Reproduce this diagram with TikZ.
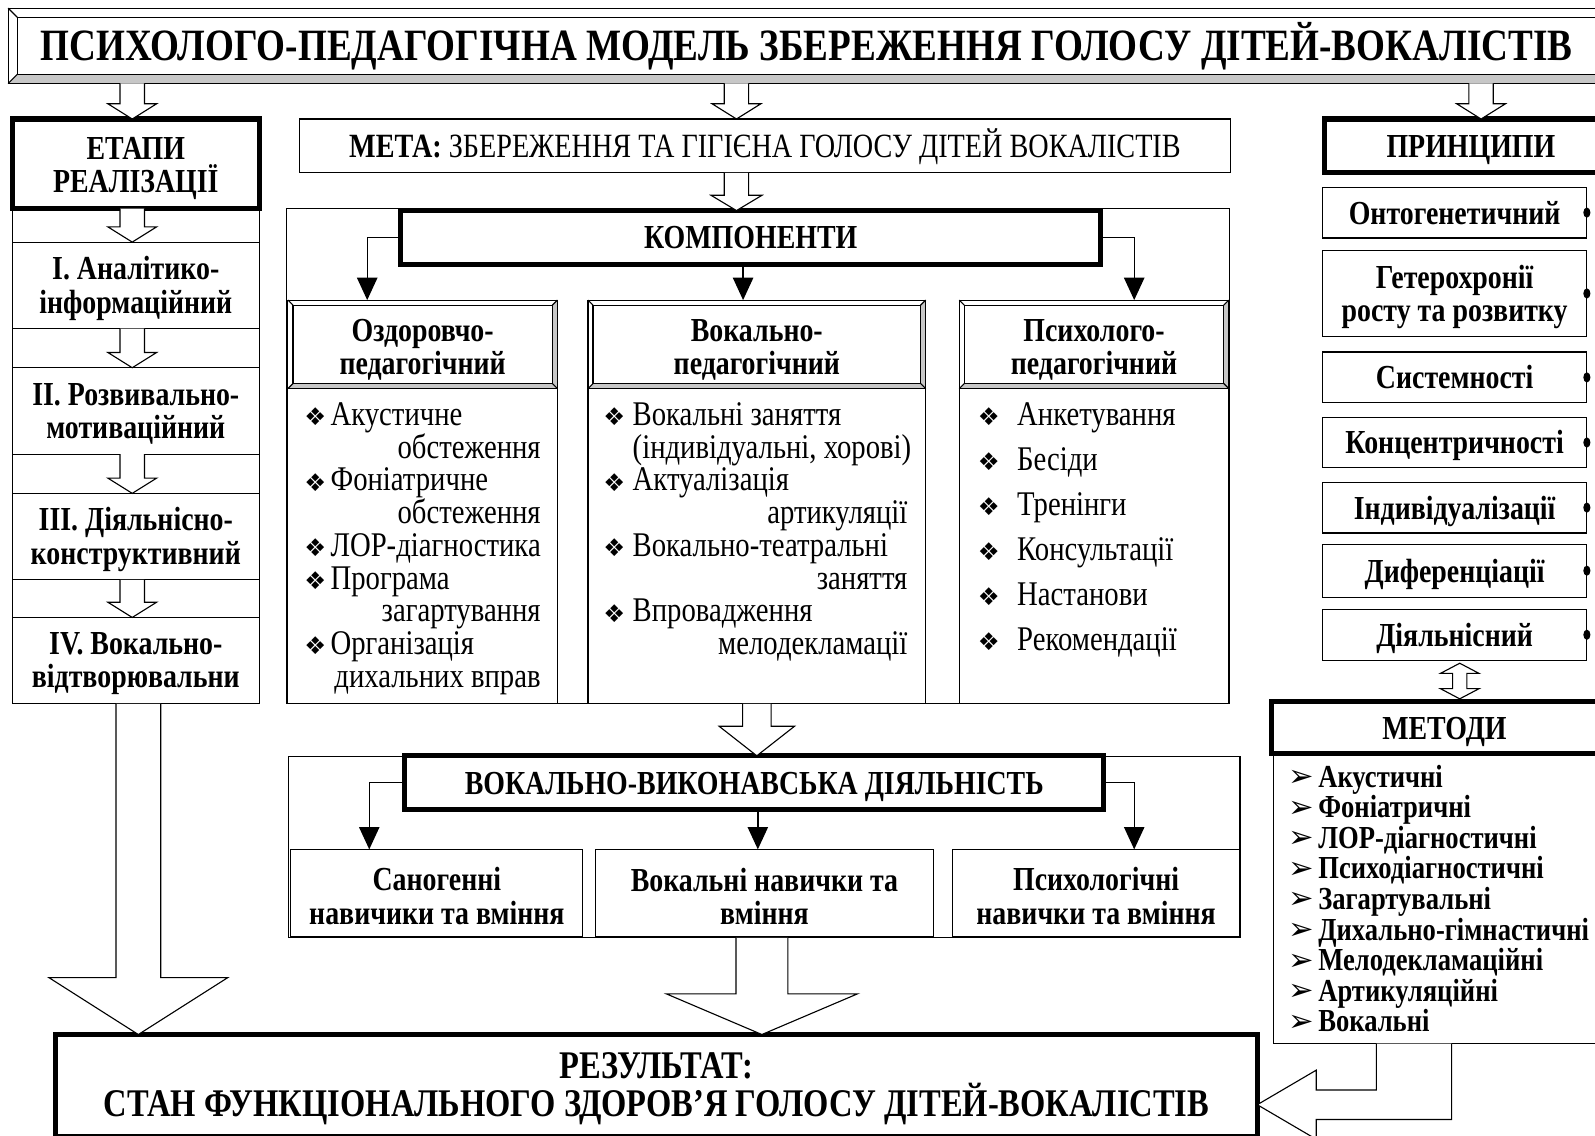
\documentclass[tikz,border=0pt]{standalone}
\usepackage{fontspec}
\setmainfont{Liberation Serif}[FakeStretch=0.83]
\newfontfamily\dejavu{DejaVu Sans}
\usetikzlibrary{arrows.meta,calc}

\newcommand{\titlefnt}{\fontsize{44}{44}\selectfont\bfseries}
\newcommand{\headfnt}{\fontsize{33}{33}\selectfont\bfseries}
\newcommand{\listfnt}{\fontsize{34}{32}\selectfont}
\newcommand{\methfnt}{\fontsize{31.5}{30}\selectfont\bfseries}
\newcommand{\resfnt}{\fontsize{38.5}{37}\selectfont\bfseries}
\newcommand{\diamfnt}{\dejavu\fontsize{24}{24}\selectfont}
\newcommand{\arrfnt}{\dejavu\fontsize{30}{30}\selectfont}
% line struts, so that boxes centre their text as a word processor does
\newcommand{\tstrut}{\rule{0pt}{0.9em}}
\newcommand{\bstrut}{\rule[-0.22em]{0pt}{0pt}}

\tikzset{
  box/.style={draw, inner sep=0pt, outer sep=0pt, align=center, font=\headfnt,
    execute at begin node=\tstrut, execute at end node=\bstrut},
  heavybox/.style={box, line width=5pt},
  bevelbox/.style={inner sep=0pt, outer sep=0pt, align=center, font=\headfnt,
    execute at begin node=\tstrut, execute at end node=\bstrut},
  lbl/.style={inner sep=0pt, outer sep=0pt, align=center, font=\headfnt},
  listitem/.style={inner sep=0pt, outer sep=0pt, font=\listfnt, text height=24pt, text depth=7pt},
  diam/.style={inner sep=0pt, outer sep=0pt, font=\diamfnt},
  conn/.style={line width=1.3pt, -{Triangle[width=20pt,length=22pt]}},
}

% hollow block arrow pointing down: x, from, to, shaft half, head half, head length
\newcommand{\hollowdown}[6]{%
  \draw[fill=white] let \p1=(#2), \p2=(#3) in
    (#1pt-#4pt,\y1) -- (#1pt-#4pt,\y2+#6pt) -- (#1pt-#5pt,\y2+#6pt) -- (#1pt,\y2)
    -- (#1pt+#5pt,\y2+#6pt) -- (#1pt+#4pt,\y2+#6pt) -- (#1pt+#4pt,\y1);}

% bevelled frame round a node: node, depth
\newcommand{\bevel}[2]{%
  \fill[black!22] (#1.south west) -- (#1.south east) -- (#1.north east)
    -- ([shift={(-#2,#2)}]#1.north east) -- ([shift={(-#2,-#2)}]#1.south east)
    -- ([shift={(#2,-#2)}]#1.south west) -- cycle;
  \draw (#1.south west) rectangle (#1.north east);
  \draw ([shift={(#2,#2)}]#1.north west) rectangle ([shift={(-#2,-#2)}]#1.south east);
  \draw (#1.north west) -- ([shift={(#2,#2)}]#1.north west)
        (#1.north east) -- ([shift={(-#2,#2)}]#1.north east)
        (#1.south east) -- ([shift={(-#2,-#2)}]#1.south east)
        (#1.south west) -- ([shift={(#2,-#2)}]#1.south west);}

\begin{document}
\begin{tikzpicture}[x=1pt, y=-1pt, line width=1.1pt]

\useasboundingbox (0,0) rectangle (1568,1116);
\fill[white] (0,0) rectangle (1568,1116);
\clip (0,0) rectangle (1568,1116);

% title banner
\node[bevelbox, font=\titlefnt, minimum width=1570pt, minimum height=74pt] (title) at (793,45)
  {ПСИХОЛОГО-ПЕДАГОГІЧНА МОДЕЛЬ ЗБЕРЕЖЕННЯ ГОЛОСУ ДІТЕЙ-ВОКАЛІСТІВ};
\bevel{title}{9}

% stages column
\node[box, minimum width=243pt, minimum height=487pt] (stcol) at (133.5,448.5) {};
\foreach \n/\yc/\txt in {1/280.5/{I. Аналітико-\\інформаційний},
                         2/404/{II. Розвивально-\\мотиваційний},
                         3/527.5/{III. Діяльнісно-\\конструктивний},
                         4/649.5/{IV. Вокально-\\відтворювальни}} {
  \node[box, fill=white, minimum width=243pt, minimum height=85pt] (st\n) at (133.5,\yc) {};
  \node[lbl] (stt\n) at ([yshift=-3pt]st\n.center) {\txt};
}
\foreach \a/\b in {1/2,2/3,3/4}
  \hollowdown{130}{st\a.south}{st\b.north}{12}{24}{15}
\node[heavybox, fill=white, minimum width=243pt, minimum height=88pt] (etapi) at (133.5,161) {};
\node[lbl] (etapit) at ([yshift=-4.5pt]etapi.center) {ЕТАПИ\\РЕАЛІЗАЦІЇ};
\hollowdown{130}{etapi.south}{st1.north}{12}{24}{15}

% goal
\node[box, font=\fontsize{33.4}{33}\selectfont, minimum width=916pt, minimum height=53pt] (meta) at (752,143.5)
  {\textbf{МЕТА:} ЗБЕРЕЖЕННЯ ТА ГІГІЄНА ГОЛОСУ ДІТЕЙ ВОКАЛІСТІВ};

% components
\node[box, minimum width=927pt, minimum height=487pt] (kframe) at (745.5,448.5) {};
\node[heavybox, fill=white, minimum width=688pt, minimum height=53pt] (komp) at (738,233.5) {КОМПОНЕНТИ};
\foreach \n/\xc/\w/\txt in {1/415.5/265/{Оздоровчо-\\педагогічний},
                            2/744/332/{Вокально-\\педагогічний},
                            3/1075.5/265/{Психолого-\\педагогічний}} {
  \node[bevelbox, fill=white, minimum width=\w pt, minimum height=87pt] (h\n) at (\xc,338.5) {};
  \bevel{h\n}{5}
  \node[lbl] (ht\n) at ([yshift=-5.5pt]h\n.center) {\txt};
  \node[box, minimum width=\w pt, minimum height=310pt] (c\n) at (\xc,537) {};
}
\draw[conn] (komp.west) -| ([xshift=-54.5pt]h1.north);
\draw[conn] ([xshift=-7.5pt]komp.south) -- ([xshift=-7.5pt]komp.south |- h2.north);
\draw[conn] (komp.east) -| ([xshift=39.5pt]h3.north);

% health list
\foreach \k/\txt in {0/Акустичне, 2/Фоніатричне, 4/ЛОР-діагностика, 5/Програма, 7/Організація} {
  \node[diam] (ab\k) at (310,409.6+32.2*\k) {❖};
  \node[listitem, anchor=west] (a\k) at (325,409.6+32.2*\k) {\txt};
}
\foreach \k/\txt in {1/обстеження, 3/обстеження, 6/загартування, 8/дихальних вправ}
  \node[listitem, anchor=east] (a\k) at (531.5,409.6+32.2*\k) {\txt};

% vocal list
\foreach \k/\txt in {0/Вокальні заняття, 2/Актуалізація, 4/Вокально-театральні, 6/Впровадження} {
  \node[diam] (bb\k) at (604,409.6+32.2*\k) {❖};
  \node[listitem, anchor=west] (b\k) at (622,409.6+32.2*\k) {\txt};
}
\node[listitem, anchor=west] (b1) at (622,441.8) {(індивідуальні, хорові)};
\foreach \k/\txt in {3/артикуляції, 5/заняття, 7/мелодекламації}
  \node[listitem, anchor=east] (b\k) at (892,409.6+32.2*\k) {\txt};

% psychology list
\foreach \k/\txt in {0/Анкетування, 1/Бесіди, 2/Тренінги, 3/Консультації, 4/Настанови, 5/Рекомендації} {
  \node[diam] (cb\k) at (972,409.6+44.2*\k) {❖};
  \node[listitem, anchor=west] (ct\k) at (1000,409.6+44.2*\k) {\txt};
}

% principles
\node[heavybox, minimum width=288pt, minimum height=53pt] (princ) at (1446,143.5) {ПРИНЦИПИ};
\foreach \n/\yc/\h/\txt in {1/209/50/Онтогенетичний, 3/371/50/Системності, 4/435/50/Концентричності,
                            5/499/50/Індивідуалізації, 6/561/52/Диференціації, 7/624/50/Діяльнісний} {
  \node[box, minimum width=260pt, minimum height=\h pt] (p\n) at (1430,\yc) {\txt};
  \fill (p\n.east) ellipse (3.5 and 5);
}
\node[box, minimum width=260pt, minimum height=85pt] (p2) at (1430,288.5) {};
\node[lbl] (pt2) at ([yshift=-3.5pt]p2.center) {Гетерохронії\\росту та розвитку};
\fill (p2.east) ellipse (3.5 and 5);

% methods
\node[heavybox, minimum width=340pt, minimum height=51pt] (metody) at (1420,715.5) {МЕТОДИ};
\node[box, minimum width=338pt, minimum height=285pt] (mlist) at (1421,883.5) {};
\foreach \k/\txt in {0/Акустичні, 1/Фоніатричні, 2/ЛОР-діагностичні, 3/Психодіагностичні, 4/Загартувальні,
                     5/Дихально-гімнастичні, 6/Мелодекламаційні, 7/Артикуляційні, 8/Вокальні} {
  \node[diam, font=\arrfnt] (mb\k) at (1279,765.2+30.1*\k) {➢};
  \node[listitem, font=\methfnt, anchor=west] (m\k) at (1296,765.2+30.1*\k) {\txt};
}
\draw[fill=white] let \p1=(p7.south), \p2=(metody.north) in
  (1435pt,\y1-3pt) -- (1454pt,\y1-13pt) -- (1442pt,\y1-13pt) -- (1442pt,\y2+13pt) -- (1454pt,\y2+13pt)
  -- (1435pt,\y2+3pt) -- (1416pt,\y2+13pt) -- (1428pt,\y2+13pt) -- (1428pt,\y1-13pt) -- (1416pt,\y1-13pt) -- cycle;

% vocal-performing activity
\node[box, minimum width=935pt, minimum height=178pt] (vframe) at (751.5,833) {};
\node[heavybox, fill=white, minimum width=687pt, minimum height=53pt] (vv) at (741.5,769.5) {ВОКАЛЬНО-ВИКОНАВСЬКА ДІЯЛЬНІСТЬ};
\foreach \n/\xc/\w/\txt in {1/429.5/287/{Саногенні\\навичики та вміння},
                            2/751.5/333/{Вокальні навички та\\вміння},
                            3/1077.5/283/{Психологічні\\навички та вміння}} {
  \node[box, minimum width=\w pt, minimum height=86pt] (s\n) at (\xc,878) {};
  \node[lbl] (sk\n) at ([yshift=-3pt]s\n.center) {\txt};
}
\draw[conn] (vv.west) -| ([xshift=-66.5pt]s1.north);
\draw[conn] ([xshift=3.5pt]vv.south) -- ([xshift=3.5pt]vv.south |- s2.north);
\draw[conn] (vv.east) -| ([xshift=37.5pt]s3.north);

% result
\node[heavybox, minimum width=1181pt, minimum height=100pt] (result) at (645.5,1067) {};
\node[lbl, font=\resfnt] (rest) at ([yshift=-3pt]result.center)
  {РЕЗУЛЬТАТ:\\СТАН ФУНКЦІОНАЛЬНОГО ЗДОРОВ’Я ГОЛОСУ ДІТЕЙ-ВОКАЛІСТІВ};

% block arrows
\hollowdown{130}{title.south}{etapi.north}{12}{24}{15}
\hollowdown{724}{title.south}{meta.north}{12}{24}{15}
\hollowdown{1456}{title.south}{princ.north}{12}{24}{15}
\hollowdown{724}{meta.south}{komp.north}{12}{25}{15}
\hollowdown{744}{kframe.south}{vv.north}{14}{37}{29}
\hollowdown{136}{stcol.south}{result.north}{22}{88}{56}
\hollowdown{749}{vframe.south}{result.north}{25.5}{94}{40}
\draw[fill=white] let \p1=(mlist.south), \p2=([yshift=-19pt]result.east) in
  (\x1-68pt,\y1) -- (\x1-68pt,\y2+14.5pt) -- (\x2+58pt,\y2+14.5pt) -- (\x2+58pt,\y2+34pt) -- (\x2,\y2)
  -- (\x2+58pt,\y2-34pt) -- (\x2+58pt,\y2-14.5pt) -- (\x1+6pt,\y2-14.5pt) -- (\x1+6pt,\y1);

\end{tikzpicture}
\end{document}
